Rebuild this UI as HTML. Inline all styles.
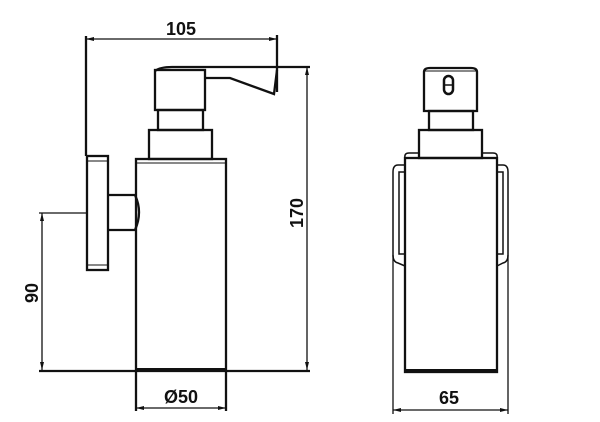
<!DOCTYPE html>
<html><head><style>body{margin:0;background:#fff}svg{display:block}text{font-family:"Liberation Sans",sans-serif;font-weight:bold;font-size:18px;fill:#111}</style></head><body>
<svg width="600" height="422" viewBox="0 0 600 422" fill="none" stroke="#111" stroke-width="2.3">
<line x1="86" y1="36" x2="86" y2="156"/>
<line x1="277" y1="35" x2="277" y2="92" />
<line x1="86" y1="39" x2="277" y2="39" stroke-width="1.3"/>
<path d="M86 39 l8 -2 v4z M277 39 l-8 -2 v4z" fill="#111" stroke="none"/>
<text x="181" y="35" text-anchor="middle" stroke="none">105</text>
<path d="M155 71 Q160 67 172 67 L310 67"/>
<rect x="155" y="70" width="50" height="40"/>
<path d="M205 78 L230 78 L274 94 L277 70"/>
<rect x="158" y="110" width="45" height="20"/>
<rect x="149" y="130" width="63" height="29"/>
<rect x="136" y="159" width="90" height="211"/>
<line x1="136" y1="163" x2="226" y2="163" stroke-width="1"/>
<line x1="136" y1="370" x2="226" y2="370" stroke-width="4"/>
<rect x="87" y="156" width="21" height="114"/>
<line x1="87" y1="161" x2="108" y2="161" stroke-width="1"/>
<line x1="87" y1="265" x2="108" y2="265" stroke-width="1"/>
<path d="M108 195 L135 195 Q143 212 135 230 L108 230"/>
<line x1="307" y1="67" x2="307" y2="370" stroke-width="1.3"/>
<path d="M307 67 l-2 8 h4z M307 370 l-2 -8 h4z" fill="#111" stroke="none"/>
<text transform="translate(303,213) rotate(-90)" text-anchor="middle" stroke="none">170</text>
<line x1="39" y1="213" x2="86" y2="213" stroke-width="1.3"/>
<line x1="42" y1="213" x2="42" y2="370" stroke-width="1.3"/>
<path d="M42 213 l-2 8 h4z M42 370 l-2 -8 h4z" fill="#111" stroke="none"/>
<text transform="translate(38,293) rotate(-90)" text-anchor="middle" stroke="none">90</text>
<line x1="39" y1="371" x2="310" y2="371"/>
<line x1="136" y1="370" x2="136" y2="411"/>
<line x1="226" y1="370" x2="226" y2="411"/>
<line x1="136" y1="408" x2="226" y2="408" stroke-width="1.3"/>
<path d="M136 408 l8 -2 v4z M226 408 l-8 -2 v4z" fill="#111" stroke="none"/>
<text x="181" y="403" text-anchor="middle" stroke="none">Ø50</text>
<path d="M424 111 V72 Q424 68 430 68 H471 Q477 68 477 72 V111 Z"/>
<line x1="425" y1="71" x2="476" y2="71" stroke-width="1"/>
<rect x="444" y="76" width="9" height="18" rx="4.5" stroke-width="2.5"/>
<line x1="444" y1="85" x2="453" y2="85" stroke-width="1.5"/>
<rect x="429" y="111" width="44" height="19"/>
<rect x="419" y="130" width="63" height="28"/>
<path d="M405 158 Q404 153 409 153 H420 M482 153 H493 Q498 153 497 158" stroke-width="1.5"/>
<rect x="405" y="158" width="92" height="214"/>
<line x1="405" y1="371" x2="497" y2="371" stroke-width="4"/>
<path d="M405 165 H398 Q393 165 393 172 V255 Q393 262 398 263 L405 266" stroke-width="1.5"/>
<path d="M404 172 H399 V254 H404" stroke-width="1.5"/>
<path d="M497 165 H503 Q508 165 508 172 V255 Q508 262 503 263 L497 266" stroke-width="1.5"/>
<path d="M498 172 H503 V254 H498" stroke-width="1.5"/>
<line x1="393" y1="255" x2="393" y2="414" stroke-width="1.3"/>
<line x1="508" y1="255" x2="508" y2="414" stroke-width="1.3"/>
<line x1="393" y1="410" x2="508" y2="410" stroke-width="1.3"/>
<path d="M393 410 l8 -2 v4z M508 410 l-8 -2 v4z" fill="#111" stroke="none"/>
<text x="449" y="404" text-anchor="middle" stroke="none">65</text>
</svg>
</body></html>
